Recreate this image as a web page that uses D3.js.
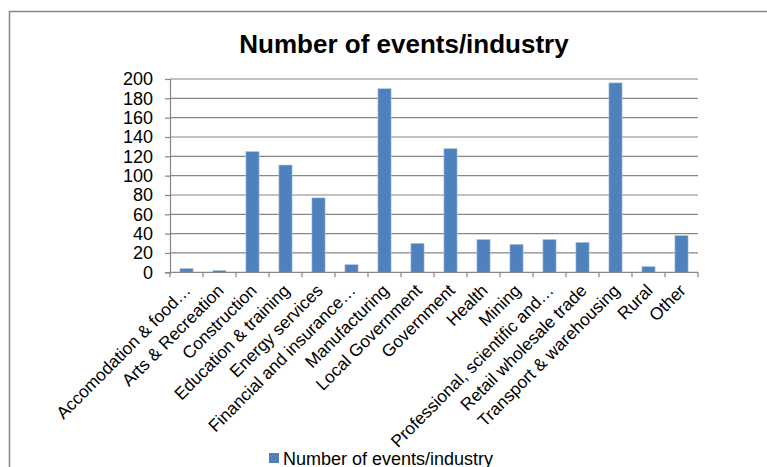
<!DOCTYPE html>
<html>
<head>
<meta charset="utf-8">
<style>
  body { margin: 0; background: #fff; }
  svg { display: block; font-family: "Liberation Sans", Arial, sans-serif; }
</style>
</head>
<body>
<svg width="767" height="467"></svg>
<script src="https://d3js.org/d3.v7.min.js"></script>
<script>
  const industries = [
    "Accomodation & food\u2026", "Arts & Recreation", "Construction", "Education & training",
    "Energy services", "Financial and insurance\u2026", "Manufacturing", "Local Government",
    "Government", "Health", "Mining", "Professional, scientific and\u2026",
    "Retail wholesale trade", "Transport & warehousing", "Rural", "Other"
  ];
  const events = [4, 2, 125, 111, 77, 8, 190, 30, 128, 34, 29, 34, 31, 196, 6, 38];
  const yTicks = [0, 20, 40, 60, 80, 100, 120, 140, 160, 180, 200];
  const seriesName = "Number of events/industry";

  const svg = d3.select("svg");
  const plot = { left: 170, right: 698, top: 79, bottom: 272.3 }; // plot area
  const grey = "#868686";
  const blue = "#4F81BD";

  // chart border (runs off the right and bottom of the picture)
  svg.append("rect")
    .attr("x", 9.5).attr("y", 11.5)
    .attr("width", 800).attr("height", 500)
    .attr("fill", "none")
    .attr("stroke", grey)
    .attr("stroke-width", 1.5);

  svg.append("text")
    .attr("x", 404).attr("y", 53)
    .attr("text-anchor", "middle")
    .attr("font-size", 26)
    .attr("font-weight", "bold")
    .text(seriesName);

  const x = d3.scaleBand().domain(industries).range([plot.left, plot.right]).paddingInner(0.6).paddingOuter(0.3);
  const xb = d3.scaleBand().domain(industries).range([plot.left, plot.right]); // full bands for ticks
  const y = d3.scaleLinear().domain([0, 200]).range([plot.bottom, plot.top]);

  // gridlines
  svg.append("g")
    .selectAll("line")
    .data(yTicks.filter((d) => d > 0))
    .join("line")
    .attr("x1", plot.left).attr("x2", plot.right)
    .attr("y1", (d) => y(d)).attr("y2", (d) => y(d))
    .attr("stroke", grey)
    .attr("stroke-width", 1.2);

  // y axis
  const yAxis = svg.append("g")
    .attr("transform", "translate(" + plot.left + ",0)")
    .call(d3.axisLeft(y).tickValues(yTicks).tickSize(5).tickPadding(12));
  yAxis.select(".domain").attr("stroke", grey).attr("stroke-width", 1.2);
  yAxis.selectAll(".tick line").attr("stroke", grey).attr("stroke-width", 1.2);
  yAxis.selectAll(".tick text")
    .attr("font-size", 18)
    .attr("font-family", "Liberation Sans, Arial, sans-serif")
    .attr("fill", "#000");

  // bars
  svg.append("g")
    .selectAll("rect")
    .data(industries)
    .join("rect")
    .attr("x", (d) => x(d))
    .attr("width", x.bandwidth())
    .attr("y", (d, i) => y(events[i]))
    .attr("height", (d, i) => y(0) - y(events[i]))
    .attr("fill", blue)
    .attr("stroke", "#b8cce4")
    .attr("stroke-width", 0.6);

  // x axis
  const xg = svg.append("g");
  xg.append("line")
    .attr("x1", plot.left).attr("x2", plot.right)
    .attr("y1", y(0)).attr("y2", y(0))
    .attr("stroke", grey).attr("stroke-width", 1.2);
  xg.selectAll("line.tk")
    .data(industries.concat([null]))
    .join("line")
    .attr("class", "tk")
    .attr("x1", (d) => (d === null ? plot.right : xb(d)))
    .attr("x2", (d) => (d === null ? plot.right : xb(d)))
    .attr("y1", y(0)).attr("y2", y(0) + 5)
    .attr("stroke", grey).attr("stroke-width", 1.2);
  xg.selectAll("text")
    .data(industries)
    .join("text")
    .attr("transform", (d) => "translate(" + (xb(d) + xb.bandwidth() / 2 + 1) + "," + (y(0) + 15) + ") rotate(-45)")
    .attr("text-anchor", "end")
    .attr("dy", "0.35em")
    .attr("font-size", 17.3)
    .text((d) => d);

  // legend
  const lg = svg.append("g");
  lg.append("rect")
    .attr("x", 269).attr("y", 453)
    .attr("width", 10).attr("height", 10)
    .attr("fill", blue);
  lg.append("text")
    .attr("x", 283).attr("y", 465)
    .attr("font-size", 18)
    .text(seriesName);
</script>
</body>
</html>
